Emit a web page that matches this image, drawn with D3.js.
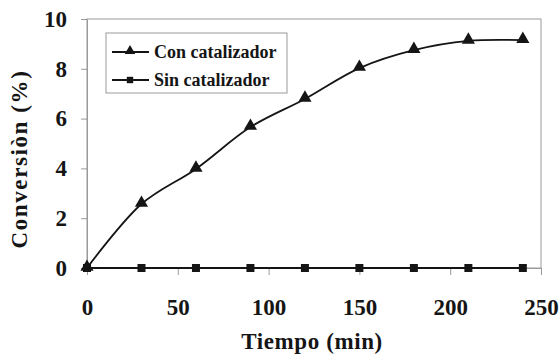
<!DOCTYPE html>
<html>
<head>
<meta charset="utf-8">
<script src="https://cdn.jsdelivr.net/npm/d3@7/dist/d3.min.js"></script>
<style>
  html, body { margin: 0; padding: 0; background: #fff; }
  svg { display: block; }
</style>
</head>
<body>
<svg id="chart" width="559" height="354" font-family="Liberation Serif" font-weight="bold"></svg>
<script>
// Conversion over time, with and without catalyst
const tiempo = [0, 30, 60, 90, 120, 150, 180, 210, 240];
const conCatalizador = [0, 2.57, 3.98, 5.66, 6.79, 8.03, 8.75, 9.12, 9.15];
const sinCatalizador = [0, 0, 0, 0, 0, 0, 0, 0, 0];
const xTicks = [0, 50, 100, 150, 200, 250];
const yTicks = [0, 2, 4, 6, 8, 10];
const seriesNames = ["Con catalizador", "Sin catalizador"];

const INK = "#151515";
const GRID = "#9a9a9a";

const svg = d3.select("#chart");
const margin = { left: 87, top: 19, right: 18, bottom: 86 };
const W = 559, H = 354;

const x = d3.scaleLinear().domain([0, 250]).range([margin.left, W - margin.right]);
const y = d3.scaleLinear().domain([0, 10]).range([H - margin.bottom, margin.top]);

function label(sel, size) {
  sel.attr("font-family", "Liberation Serif").attr("font-weight", "bold")
    .style("font-size", size + "px").attr("fill", INK);
}

// plot frame
svg.append("rect")
  .attr("x", x(0)).attr("y", y(10))
  .attr("width", x(250) - x(0)).attr("height", y(0) - y(10))
  .attr("fill", "none").attr("stroke", GRID).attr("stroke-width", 1);

// y axis
const yAxis = svg.append("g")
  .attr("transform", `translate(${x(0)},0)`)
  .call(d3.axisLeft(y).tickValues(yTicks).tickSize(6).tickPadding(14).tickFormat(d3.format("d")));
yAxis.attr("font-family", null).attr("font-size", null);
yAxis.select(".domain").attr("stroke", GRID);
yAxis.selectAll(".tick line").attr("stroke", GRID);
yAxis.selectAll(".tick text").call(label, 23);

// x axis, ticks hanging below the zero line
const xAxis = svg.append("g")
  .attr("transform", `translate(0,${y(0)})`)
  .call(d3.axisBottom(x).tickValues(xTicks).tickSize(7).tickFormat(d3.format("d")));
xAxis.attr("font-family", null).attr("font-size", null);
xAxis.select(".domain").attr("stroke", GRID);
xAxis.selectAll(".tick line").attr("stroke", GRID);
xAxis.selectAll(".tick text").call(label, 23).attr("y", 47).attr("dy", null);

// axis titles
svg.append("text")
  .attr("x", 312).attr("y", 349)
  .attr("text-anchor", "middle").call(label, 23).style("letter-spacing", "0.6px")
  .text("Tiempo (min)");
svg.append("text")
  .attr("transform", `translate(27,159) rotate(-90)`)
  .attr("text-anchor", "middle").call(label, 23).style("letter-spacing", "1.6px")
  .text("Conversiòn (%)");

const line = d3.line()
  .x((d, i) => x(tiempo[i]))
  .y(d => y(d))
  .curve(d3.curveCatmullRom.alpha(0.5));

// series lines
svg.append("path").datum(sinCatalizador)
  .attr("d", line).attr("fill", "none").attr("stroke", INK).attr("stroke-width", 1.8);
svg.append("path").datum(conCatalizador)
  .attr("d", line).attr("fill", "none").attr("stroke", INK).attr("stroke-width", 1.8);

const tri = d3.symbol().type(d3.symbolTriangle).size(75);
const sq = d3.symbol().type(d3.symbolSquare).size(64);

svg.selectAll(".sq").data(sinCatalizador).join("path")
  .attr("class", "sq").attr("d", sq).attr("fill", INK)
  .attr("transform", (d, i) => `translate(${x(tiempo[i])},${y(d)})`);
svg.selectAll(".tri").data(conCatalizador).join("path")
  .attr("class", "tri").attr("d", tri).attr("fill", INK)
  .attr("transform", (d, i) => `translate(${x(tiempo[i])},${y(d) - 1})`);

// legend
const lg = svg.append("g").attr("transform", "translate(106,33)");
lg.append("rect").attr("width", 181).attr("height", 60)
  .attr("fill", "#fff").attr("stroke", GRID);
const markers = [tri, sq];
seriesNames.forEach((name, i) => {
  const cy = 19 + i * 28;
  lg.append("line").attr("x1", 6).attr("x2", 43).attr("y1", cy).attr("y2", cy)
    .attr("stroke", INK).attr("stroke-width", 1.8);
  lg.append("path").attr("d", markers[i]).attr("fill", INK)
    .attr("transform", `translate(24,${cy - (i === 0 ? 1 : 0)}) scale(0.8)`);
  lg.append("text").attr("x", 48).attr("y", cy + 6)
    .call(label, 18).text(name);
});
</script>
</body>
</html>
